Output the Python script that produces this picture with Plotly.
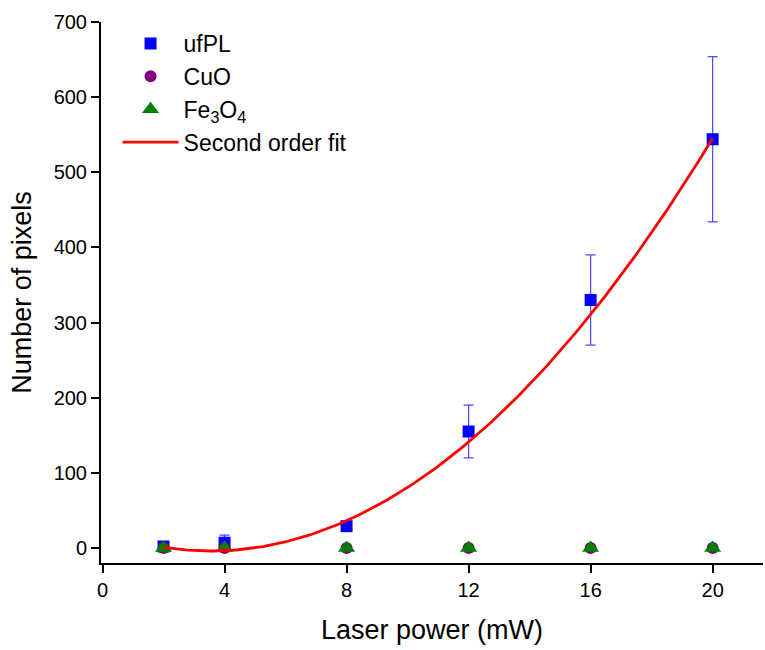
import numpy as np
import plotly.graph_objects as go

# Laser power levels (mW)
laser_power = [2, 4, 8, 12, 16, 20]

# Pixel counts per sample type
ufpl_pixels = [2, 7, 29, 155, 330, 544]
ufpl_err = [2, 10, 4, 35, 60, 110]
cuo_pixels = [0, 0, 0, 0, 0, 0]
cuo_err = [0, 0, 0, 0, 0, 3]
fe3o4_pixels = [0, 0, 0, 0, 0, 0]
fe3o4_err = [4, 0, 0, 0, 0, 0]

# Second order fit of the ufPL counts: y = a*x^2 + b*x + c
fit_coeffs = [2.027, -14.35, 21.37]

x_fit = np.linspace(min(laser_power), max(laser_power), 200)
y_fit = np.polyval(fit_coeffs, x_fit)

FONT = "Liberation Sans, Arial, sans-serif"

fig = go.Figure()

fig.add_trace(go.Scatter(
    x=laser_power, y=ufpl_pixels, mode="markers", name="ufPL",
    marker=dict(symbol="square", size=12, color="#0000ff"),
    error_y=dict(type="data", array=ufpl_err, color="rgba(40,40,255,0.85)",
                 thickness=1.2, width=5),
))
fig.add_trace(go.Scatter(
    x=laser_power, y=cuo_pixels, mode="markers", name="CuO",
    marker=dict(symbol="circle", size=12, color="#800080"),
    error_y=dict(type="data", array=cuo_err, color="#800080",
                 thickness=1.2, width=5),
))
fig.add_trace(go.Scatter(
    x=laser_power, y=fe3o4_pixels, mode="markers", name="Fe<sub>3</sub>O<sub>4</sub>",
    marker=dict(symbol="triangle-up", size=15, color="#008000"),
    error_y=dict(type="data", array=fe3o4_err, color="#008000",
                 thickness=1.2, width=5),
))
fig.add_trace(go.Scatter(
    x=x_fit, y=y_fit, mode="lines", name="Second order fit",
    line=dict(color="#ff0000", width=2.8),
))

tick_font = dict(family=FONT, size=20, color="black")
title_font = dict(family=FONT, size=27, color="black")

fig.update_layout(
    width=765, height=650,
    margin=dict(l=101, r=2, t=22, b=87),
    paper_bgcolor="white", plot_bgcolor="white",
    font=dict(family=FONT, color="black"),
    showlegend=True,
    legend=dict(
        x=0.025, y=1.0, xanchor="left", yanchor="top",
        bgcolor="rgba(0,0,0,0)", borderwidth=0,
        font=dict(family=FONT, size=23, color="black"),
        itemwidth=56,
    ),
    xaxis=dict(
        range=[-0.05, 21.65], tickmode="array", tickvals=[0, 4, 8, 12, 16, 20],
        showgrid=False, zeroline=False, showline=True, linecolor="black", linewidth=2,
        ticks="outside", ticklen=8, tickwidth=2, tickcolor="black",
        tickfont=tick_font,
        title=dict(text="Laser power (mW)", font=title_font, standoff=20),
    ),
    yaxis=dict(
        range=[-20, 700], tickmode="array", tickvals=list(range(0, 701, 100)),
        showgrid=False, zeroline=False, showline=True, linecolor="black", linewidth=2,
        ticks="outside", ticklen=8, tickwidth=2, tickcolor="black",
        tickfont=tick_font,
        title=dict(text="Number of pixels", font=title_font, standoff=14),
    ),
)

fig.write_html("out.html")
